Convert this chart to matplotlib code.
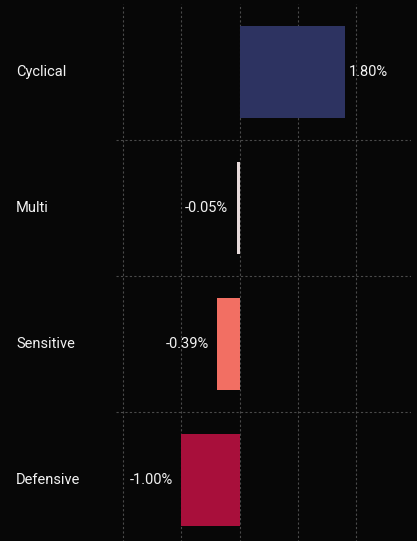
import matplotlib.pyplot as plt
from matplotlib.ticker import MultipleLocator

# ── DATA ─────────────────────────────────────────────────────────────────────
categories = ["Cyclical", "Multi", "Sensitive", "Defensive"]
returns    = [1.80, -0.05, -0.39, -1.00]
colors     = ["#2D3361", "#E6DADA", "#F26F63", "#A80F3B"]

BG   = "#070707"
GRID = "#4A4A4A"
TXT  = "#F2F2F2"

plt.rcParams["font.family"] = ["Roboto", "DejaVu Sans"]

fig = plt.figure(figsize=(4.17, 5.41), dpi=100)
fig.patch.set_facecolor(BG)
ax = fig.add_axes([116 / 417, -7 / 541, 295 / 417, 544 / 541])
ax.set_facecolor(BG)

y = list(range(len(categories)))
ax.barh(y, returns, color=colors, height=0.68, zorder=3)

for yi, val in zip(y, returns):
    if val >= 0:
        ax.annotate(f"{val:.2f}%", (val, yi), xytext=(3, 0), textcoords="offset points",
                    va="center", ha="left", color=TXT, fontsize=10.5)
    else:
        ax.annotate(f"{val:.2f}%", (val, yi), xytext=(-6, 0), textcoords="offset points",
                    va="center", ha="right", color=TXT, fontsize=10.5)

# category labels at the far left of the figure
for yi, cat in zip(y, categories):
    ax.annotate(cat, (0, yi), xycoords=("figure pixels", "data"),
                xytext=(16, 0), textcoords="offset pixels",
                va="center", ha="left", color=TXT, fontsize=10.5)

ax.set_xlim(-2.12, 2.94)
ax.set_ylim(3.5, -0.5)
ax.xaxis.set_major_locator(MultipleLocator(1))
ax.set_yticks([0.5, 1.5, 2.5])
ax.tick_params(left=False, bottom=False, labelleft=False, labelbottom=False)
ax.grid(True, color=GRID, linestyle=(0, (2, 2)), linewidth=0.8, zorder=0)
for s in ax.spines.values():
    s.set_visible(False)

plt.savefig("out.png", dpi=100, facecolor=BG)
plt.close()
